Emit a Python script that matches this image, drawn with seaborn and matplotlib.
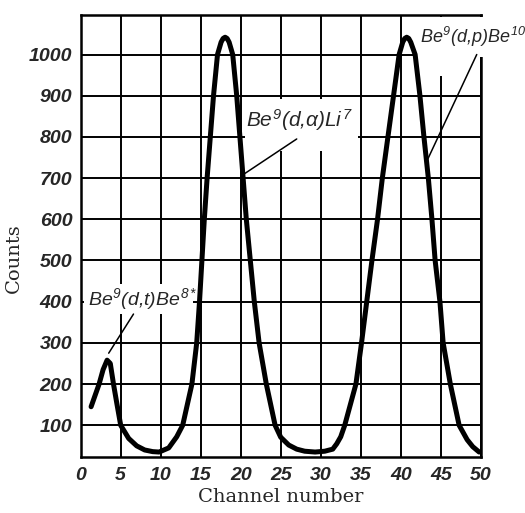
import numpy as np
import pandas as pd
import seaborn as sns
import matplotlib
matplotlib.use("Agg")
import matplotlib.pyplot as plt
from matplotlib.patches import Rectangle

# ---- data ----
channel = [1.3, 2.3, 2.8, 3.3, 3.7, 4.1, 4.5, 5.0, 6.0, 7.0, 8.0, 9.0, 9.8, 11.0, 12.0, 12.75,
           13.9, 14.5, 14.85, 15.15, 15.45, 15.8, 16.2, 16.6, 17.1, 17.55, 17.8, 18.05,
           18.3, 18.55, 19.0, 19.5, 19.9, 20.3, 20.7, 21.2, 21.7, 22.3, 23.2, 24.3, 25.0,
           26.0, 27.0, 28.0, 29.3, 30.5, 31.5, 32.0, 32.5, 33.0, 34.4, 35.1, 35.75,
           36.4, 37.1, 37.7, 38.4, 39.1, 39.8, 40.25, 40.5, 40.75, 41.0, 41.25, 41.8, 42.4, 42.9,
           43.45, 43.9, 44.3, 44.9, 45.3, 46.2, 47.3, 48.3, 49.0, 49.8]
counts = [145, 200, 235, 258, 250, 200, 155, 100, 68, 50, 40, 36, 35, 45, 72, 100,
          200, 300, 400, 500, 600, 700, 800, 900, 1000, 1030, 1039, 1042,
          1039, 1030, 1000, 900, 800, 700, 600, 500, 400, 300, 200, 100, 71,
          52, 42, 37, 35, 37, 42, 55, 72, 100, 200, 300, 400,
          500, 600, 700, 800, 900, 1000, 1030, 1039, 1042, 1039, 1030, 1000, 900, 800,
          700, 600, 500, 400, 300, 200, 100, 65, 48, 35]

x_ticks = [0, 5, 10, 15, 20, 25, 30, 35, 40, 45, 50]
y_ticks = [100, 200, 300, 400, 500, 600, 700, 800, 900, 1000]

labels = [r"$Be^{9}(d{,}t)Be^{8*}$", r"$Be^{9}(d{,}\alpha)Li^{7}$", r"$Be^{9}(d{,}p)Be^{10}$"]
label_sizes = [14, 15, 13]
label_pos = [(0.9, 392), (20.7, 824), (42.4, 1027)]
leader_from = [(6.6, 370), (27.0, 795), (49.5, 1000)]
leader_to = [(3.5, 275), (20.5, 711), (43.4, 747)]

# ---- styling ----
sns.set_style("white")
plt.rcParams["mathtext.fontset"] = "custom"
plt.rcParams["mathtext.rm"] = "Liberation Sans:italic"
plt.rcParams["mathtext.it"] = "Liberation Sans:italic"
plt.rcParams["mathtext.default"] = "it"

fig = plt.figure(figsize=(5.25, 5.13), dpi=100)
ax = fig.add_axes([0.1537, 0.1092, 0.762, 0.8616])

df = pd.DataFrame({"channel": channel, "counts": counts})
sns.lineplot(data=df, x="channel", y="counts", color="black", lw=3.6,
             ax=ax, zorder=3, solid_capstyle="round", solid_joinstyle="round")

ax.set_xlim(0, 50)
ax.set_ylim(23, 1096)
ax.set_xticks(x_ticks)
ax.set_yticks(y_ticks)
ax.grid(True, color="black", lw=1.4)
ax.set_axisbelow(True)
for s in ax.spines.values():
    s.set_color("black")
    s.set_linewidth(1.8)

tick_font = dict(family=["Liberation Sans", "DejaVu Sans"],
                 weight="bold", style="italic", size=14)
ax.set_xticklabels([str(v) for v in x_ticks], fontdict=tick_font)
ax.set_yticklabels([str(v) for v in y_ticks], fontdict=tick_font)
ax.tick_params(axis="both", length=0)
ax.tick_params(axis="x", pad=7)
ax.tick_params(axis="y", pad=6)

ax.set_xlabel("Channel number", family=["DejaVu Serif"], size=14, labelpad=3)
ax.set_ylabel("Counts", family=["DejaVu Serif"], size=14)
ax.yaxis.set_label_coords(-0.145, 0.45)

# white masks behind the labels (as in the reference)
masks = [(0.4, 369, 13.6, 73), (20.5, 767, 14.2, 124), (41.7, 993, 14.1, 98), (44.6, 947, 0.8, 50)]
for (mx, my, mw, mh) in masks:
    ax.add_patch(Rectangle((mx, my), mw, mh, facecolor="white", edgecolor="none",
                           zorder=2.6, clip_on=False))

for txt, fs, (tx, ty), (fx, fy), (ex, ey) in zip(labels, label_sizes, label_pos, leader_from, leader_to):
    ax.text(tx, ty, txt, ha="left", va="baseline", fontsize=fs, zorder=5, clip_on=False)
    ax.plot([fx, ex], [fy, ey], color="black", lw=1.1, zorder=4, clip_on=False)

fig.savefig("out.png", dpi=100)
